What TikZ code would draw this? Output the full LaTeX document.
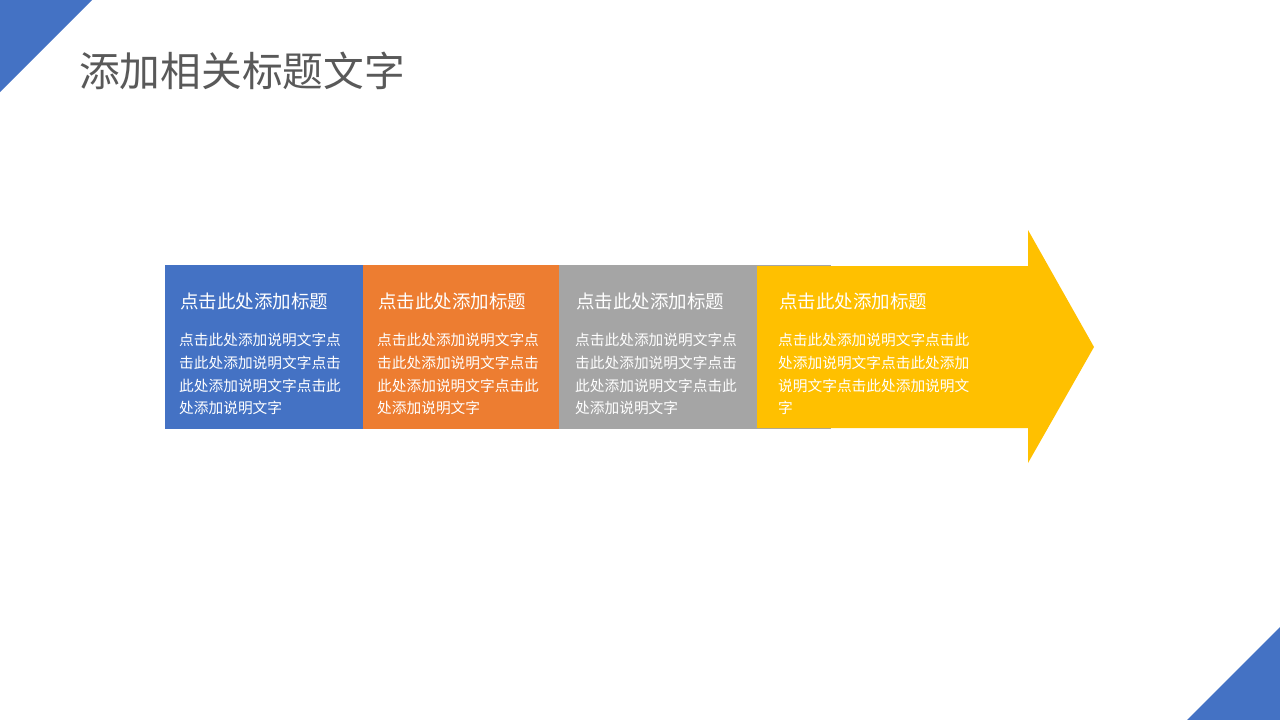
\documentclass[tikz,border=0pt]{standalone}
\usepackage{fontspec}
\setmainfont{Noto Sans CJK SC}
\definecolor{cblue}{HTML}{4472C4}
\definecolor{corange}{HTML}{ED7D31}
\definecolor{cgray}{HTML}{A5A5A5}
\definecolor{cyellow}{HTML}{FFC000}
\definecolor{ctitle}{HTML}{595959}
\tikzset{
  head/.style={anchor=base west, inner sep=0, text=white, font=\fontsize{18.5}{22}\selectfont},
  body/.style={anchor=north west, inner sep=0, text=white, align=left, font=\fontsize{14.7}{22.7}\selectfont},
}
\begin{document}
\begin{tikzpicture}[x=1pt,y=-1pt]
\useasboundingbox[fill=white] (0,0) rectangle (1280,720);
% corner triangles
\fill[cblue] (0,0) -- (92,0) -- (0,92) -- cycle;
\fill[cblue] (1280,627) -- (1280,720) -- (1187,720) -- cycle;
% title
\node[anchor=base west, inner sep=0, text=ctitle, font=\fontsize{40.7}{48}\selectfont] (title) at (79,86.5) {添加相关标题文字};
% boxes
\fill[cblue] (165,265) rectangle (363,429);
\fill[corange] (363,265) rectangle (559,429);
\fill[cgray] (559,265) rectangle (831,429);
\fill[cyellow] (757,266) -- (1028,266) -- (1028,230) -- (1094,347) -- (1028,463) -- (1028,428) -- (757,428) -- cycle;
% texts
\node[head] (h1) at (180,308) {点击此处添加标题};
\node[body] (b1) at (179,333) {点击此处添加说明文字点\\击此处添加说明文字点击\\此处添加说明文字点击此\\处添加说明文字};
\node[head] (h2) at (378,308) {点击此处添加标题};
\node[body] (b2) at (377,333) {点击此处添加说明文字点\\击此处添加说明文字点击\\此处添加说明文字点击此\\处添加说明文字};
\node[head] (h3) at (576,308) {点击此处添加标题};
\node[body] (b3) at (575,333) {点击此处添加说明文字点\\击此处添加说明文字点击\\此处添加说明文字点击此\\处添加说明文字};
\node[head] (h4) at (779,308) {点击此处添加标题};
\node[body] (b4) at (778,333) {点击此处添加说明文字点击此\\处添加说明文字点击此处添加\\说明文字点击此处添加说明文\\字};
\end{tikzpicture}
\end{document}
